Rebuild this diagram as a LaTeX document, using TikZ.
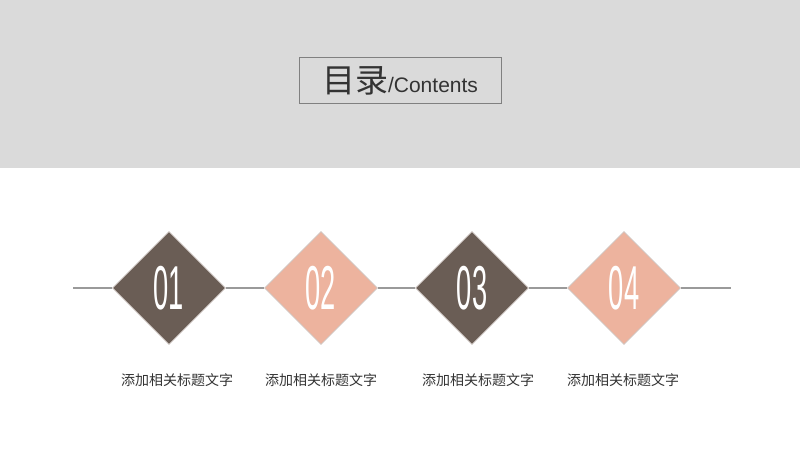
\documentclass[tikz,border=0pt]{standalone}
\usepackage{fontspec}
\setmainfont{Liberation Sans}
\newfontfamily\cjk{Noto Sans CJK SC}
\usetikzlibrary{shapes.geometric}
\definecolor{bandgray}{HTML}{DADADA}
\definecolor{boxline}{HTML}{808080}
\definecolor{txt}{HTML}{333333}
\definecolor{brownc}{HTML}{6A5D55}
\definecolor{pinkc}{HTML}{EDB39E}
\definecolor{linec}{HTML}{9A9A9A}
\definecolor{rimc}{HTML}{CFC6C2}
\tikzset{
  gem/.style={diamond, aspect=1, inner sep=0pt, minimum width=113pt, minimum height=113pt, draw=rimc, line width=0.6pt},
  darkgem/.style={gem, fill=brownc},
  lightgem/.style={gem, fill=pinkc},
  numtxt/.style={text=white, font=\fontsize{62}{62}\selectfont},
  label/.style={text=txt, font=\cjk\fontsize{14}{16}\selectfont, inner sep=0pt},
  wire/.style={draw=linec, line width=1.1pt}
}
\newcommand{\numtext}[1]{\scalebox{0.44}[1]{#1}}
\begin{document}
\begin{tikzpicture}[x=1pt,y=-1pt]
\useasboundingbox (0,0) rectangle (800,450);
\fill[white] (0,0) rectangle (800,450);
\fill[bandgray] (0,0) rectangle (800,168);
\node[draw=boxline, line width=1pt, fill=bandgray, minimum width=202pt, minimum height=46pt, inner sep=0pt] (title) at (400,80) {};
\node[text=txt, inner sep=0pt, anchor=center] (titletext) at (400,81) {{\cjk\fontsize{33}{36}\selectfont 目录}{\fontsize{21}{24}\selectfont /Contents}};
\coordinate (L) at (73,288);
\coordinate (R) at (731,288);
\node[darkgem] (d1) at (169,288) {};
\node[lightgem] (d2) at (321,288) {};
\node[darkgem] (d3) at (472,288) {};
\node[lightgem] (d4) at (624,288) {};
\draw[wire] (L) -- (d1.west);
\draw[wire] (d1.east) -- (d2.west);
\draw[wire] (d2.east) -- (d3.west);
\draw[wire] (d3.east) -- (d4.west);
\draw[wire] (d4.east) -- (R);
\node[numtxt] (n1) at (d1) {\numtext{01}};
\node[numtxt] (n2) at (d2) {\numtext{02}};
\node[numtxt] (n3) at (d3) {\numtext{03}};
\node[numtxt] (n4) at (d4) {\numtext{04}};
\node[label] (t1) at (177,380) {添加相关标题文字};
\node[label] (t2) at (321,380) {添加相关标题文字};
\node[label] (t3) at (478,380) {添加相关标题文字};
\node[label] (t4) at (623,380) {添加相关标题文字};
\end{tikzpicture}
\end{document}
